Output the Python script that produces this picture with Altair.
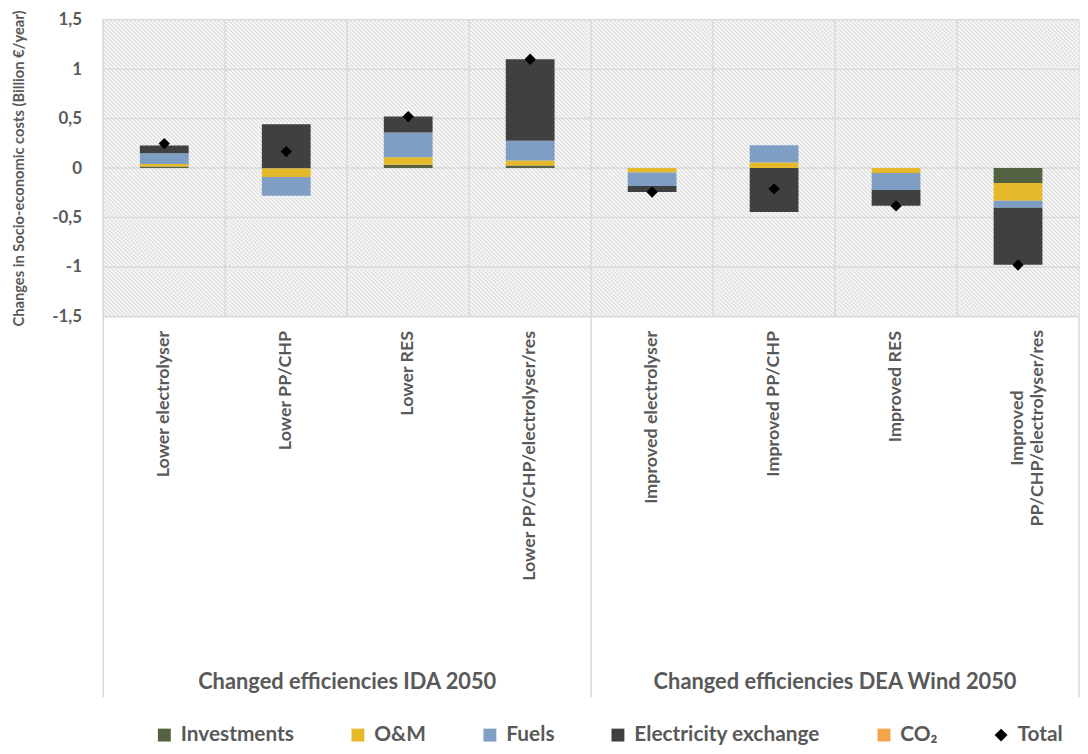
import altair as alt
import pandas as pd

# ---------------- data ----------------
categories = [
    "Lower electrolyser",
    "Lower PP/CHP",
    "Lower RES",
    "Lower PP/CHP/electrolyser/res",
    "Improved electrolyser",
    "Improved PP/CHP",
    "Improved RES",
    "Improved PP/CHP/electrolyser/res",
]
investments = [0.015, -0.005, 0.033, 0.027, 0.0, 0.0, 0.0, -0.15]
om = [0.025, -0.085, 0.077, 0.05, -0.045, 0.055, -0.05, -0.18]
fuels = [0.11, -0.19, 0.25, 0.20, -0.137, 0.175, -0.173, -0.07]
electricity = [0.077, 0.443, 0.16, 0.823, -0.06, -0.443, -0.157, -0.577]
co2 = [0.0, 0.0, 0.0, 0.0, 0.0, 0.0, 0.0, 0.0]
total = [0.247, 0.167, 0.52, 1.1, -0.243, -0.21, -0.383, -0.98]

series_names = ["Investments", "O&M", "Fuels", "Electricity exchange", "CO₂", "Total"]
series_colors = ["#556241", "#E6B92A", "#7F9EC3", "#404040", "#F5A24A", "#000000"]
series_shapes = ["square", "square", "square", "square", "square", "diamond"]
y_ticks = [-1.5, -1, -0.5, 0, 0.5, 1, 1.5]
groups = ["Changed efficiencies IDA 2050", "Changed efficiencies DEA Wind 2050"]
y_title = "Changes in Socio-economic costs (Billion €/year)"

# ---------------- style ----------------
W, H = 983, 299
FONT = "Lato"
GREY = "#595959"
GRID = "#d9d9d9"

rows = []
for i, c in enumerate(categories):
    for j, (name, vals) in enumerate(zip(series_names[:5], [investments, om, fuels, electricity, co2])):
        rows.append({"cat": c, "series": name, "value": vals[i], "order": j})
bars_df = pd.DataFrame(rows)
total_df = pd.DataFrame({"cat": categories, "series": ["Total"] * len(categories), "value": total})
cat_df = pd.DataFrame({"cat": categories})
tick_df = pd.DataFrame({"t": y_ticks})
sep_df = pd.DataFrame({"cat": [categories[0], categories[4]]})
sep_r_df = pd.DataFrame({"cat": [categories[-1]]})
grp_df = pd.DataFrame({"cat": [categories[1], categories[5]], "label": groups})

# diagonal hatch as a striped linear gradient (per band rect)
band_w = W / len(categories)
r = H / band_w
k = (1 + r) / (1 + r * r)
n_per = int(round((band_w + H) / 4.0))
stops = []
for i in range(n_per):
    stops.append({"offset": i / n_per, "color": "#dadada"})
    stops.append({"offset": (i + 0.5) / n_per, "color": "#ffffff"})
stops.append({"offset": 1.0, "color": "#dadada"})
hatch_fill = {"gradient": "linear", "x1": 0, "y1": 1, "x2": k, "y2": 1 - k * r, "stops": stops}

LAST = categories[-1]
xscale = alt.Scale(domain=categories, paddingInner=0, paddingOuter=0)
xaxis = alt.Axis(
    title=None, labelAngle=-90, labelFont=FONT, labelFontWeight="bold", labelFontSize=18,
    labelColor=GREY, ticks=False, domain=False, grid=False, labelLimit=400,
    labelAlign={"condition": {"test": f"datum.value == '{LAST}'", "value": "center"}, "value": "right"},
    labelPadding={"condition": {"test": f"datum.value == '{LAST}'", "value": 112}, "value": 14},
    labelExpr=f"datum.label == '{LAST}' ? ['Improved', 'PP/CHP/electrolyser/res'] : datum.label",
)


def X(bp=None):
    kw = dict(scale=xscale, axis=xaxis, title=None)
    if bp is not None:
        kw["bandPosition"] = bp
    return alt.X("cat:N", **kw)


yscale = alt.Scale(domain=[-1.5, 1.5], nice=False, zero=False)
yaxis = alt.Axis(
    values=y_ticks, labelExpr="replace(toString(datum.value), '.', ',')",
    labelFont=FONT, labelFontWeight="bold", labelFontSize=17, labelColor=GREY, labelPadding=22,
    ticks=False, domain=False, grid=False,
    title=y_title, titleFont=FONT, titleFontWeight="bold", titleFontSize=14.8, titleColor=GREY,
    titleX=-84, titleY=H / 2, titleAlign="center", titleBaseline="middle", titleAngle=270,
    titleLimit=420,
)

legend = alt.Legend(
    title=None, orient="none", legendX=51, legendY=710, direction="horizontal",
    labelFont=FONT, labelFontSize=21, labelFontWeight="bold", labelColor=GREY,
    symbolSize=169, columnPadding=53, labelOffset=6, symbolStrokeWidth=0, labelLimit=300,
)
cscale = alt.Scale(domain=series_names, range=series_colors)
sscale = alt.Scale(domain=series_names, range=series_shapes)

hatch = alt.Chart(cat_df).mark_rect(fill=hatch_fill).encode(
    x=X(),
    y=alt.YDatum(-1.5, type="quantitative", scale=yscale, axis=yaxis),
    y2=alt.Y2Datum(1.5),
)
hgrid = alt.Chart(tick_df).mark_rule(color=GRID, strokeWidth=1.5).encode(
    y=alt.Y("t:Q", scale=yscale, axis=yaxis)
)
vgrid = alt.Chart(cat_df).mark_rule(color=GRID, strokeWidth=1.5).encode(x=X(0))

bars = alt.Chart(bars_df).mark_bar(width=alt.RelativeBandSize(0.4)).encode(
    x=X(),
    y=alt.Y("value:Q", stack="zero", scale=yscale, axis=yaxis),
    color=alt.Color("series:N", scale=cscale, legend=legend),
    order=alt.Order("order:Q"),
)
points = alt.Chart(total_df).mark_point(filled=True, opacity=1, size=130).encode(
    x=X(),
    y=alt.Y("value:Q", scale=yscale, axis=yaxis),
    color=alt.Color("series:N", scale=cscale, legend=legend),
    shape=alt.Shape("series:N", scale=sscale, legend=legend),
)
sep = alt.Chart(sep_df).mark_rule(color=GRID, strokeWidth=1.5).encode(
    x=X(0),
    y=alt.YDatum(-1.5, type="quantitative", scale=yscale, axis=yaxis),
    y2=alt.value(H + 384),
)
sep_r = alt.Chart(sep_r_df).mark_rule(color=GRID, strokeWidth=1.5).encode(
    x=X(1),
    y=alt.YDatum(-1.5, type="quantitative", scale=yscale, axis=yaxis),
    y2=alt.value(H + 384),
)
grp = alt.Chart(grp_df).mark_text(
    font=FONT, fontWeight="bold", fontSize=22, color=GREY, baseline="middle", align="center"
).encode(x=X(1), y=alt.value(H + 368), text="label:N")

chart = alt.layer(hatch, hgrid, vgrid, bars, points, sep, sep_r, grp).properties(
    width=W, height=H,
    autosize=alt.AutoSizeParams(type="none"),
    padding={"left": 96, "top": 9, "right": 1, "bottom": 430},
).configure_view(stroke=GRID, strokeWidth=1.5)

chart.save("out.html", embed_options={"renderer": "svg", "actions": False})
